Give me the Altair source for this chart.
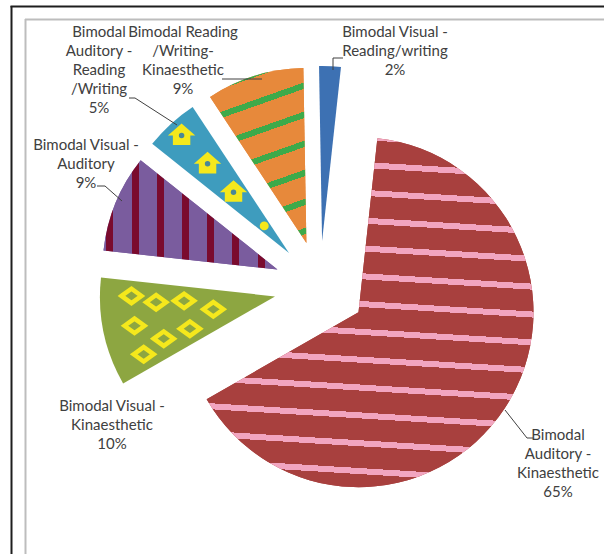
import math
import altair as alt
import numpy as np
import pandas as pd

# ---------------- data ----------------
keys = ["AK", "VK", "VA", "AR", "RK", "VR"]
categories = [
    "Bimodal Auditory-Kinaesthetic",
    "Bimodal Visual-Kinaesthetic",
    "Bimodal Visual-Auditory",
    "Bimodal Auditory-Reading/Writing",
    "Bimodal Reading/Writing-Kinaesthetic",
    "Bimodal Visual-Reading/writing",
]
percent = [65, 10, 9, 5, 9, 2]
label_lines = [
    ["Bimodal", "Auditory -", "Kinaesthetic"],
    ["Bimodal Visual -", "Kinaesthetic"],
    ["Bimodal Visual -", "Auditory"],
    ["Bimodal", "Auditory -", "Reading", "/Writing"],
    ["Bimodal Reading", "/Writing-", "Kinaesthetic"],
    ["Bimodal Visual -", "Reading/writing"],
]

# ---------------- style / layout ----------------
slice_colors = ["#A8403E", "#8DA641", "#7A5C9E", "#3E9CBE", "#E7893B", "#3D71B3"]
PINK = "#F2A5C0"
STRIPE_GREEN = "#3DAA4A"
BAR_RED = "#7A0B2E"
YELLOW = "#F5E81C"
TEXT_COLOR = "#404040"
FONT = "Lato"

W, H = 579, 535
PAD_L, PAD_T = 25, 19
CX, CY = 295, 268          # pie centre inside the plot area (px)
R = 175                    # pie radius (px)
EXPLODE = 46               # slice explosion (px)
ROT = math.radians(6.2)    # angle of first slice

# first-line centre of each label block and leader lines, in screen px
label_pos_px = {"AK": (558, 435), "VK": (112, 406), "VA": (86, 145),
                "AR": (99, 32), "RK": (183, 32), "VR": (395, 32)}
leader_px = {
    "VR": [(333, 70), (333, 58), (343, 58)],
    "RK": [(222, 79), (262, 79)],
    "AR": [(129, 98), (135, 98), (177, 125)],
    "VA": [(97, 186), (105, 186), (122, 201)],
    "AK": [(505, 410), (527, 438), (533, 438)],
}


def to_unit(sx, sy):
    return (sx - PAD_L - CX) / R, (PAD_T + CY - sy) / R


# ---------------- geometry from data ----------------
df = pd.DataFrame({"key": keys, "category": categories, "pct": percent})
total = float(df["pct"].sum())
df["end"] = df["pct"].cumsum()
df["start"] = df["end"] - df["pct"]
df["a0"] = ROT + 2 * np.pi * df["start"] / total
df["a1"] = ROT + 2 * np.pi * df["end"] / total
df["mid"] = (df["a0"] + df["a1"]) / 2
kx = EXPLODE / R
df["ox"] = kx * np.sin(df["mid"])
df["oy"] = kx * np.cos(df["mid"])
df["label"] = ["\n".join(l + [f"{p}%"]) for l, p in zip(label_lines, percent)]
df["lx"] = [to_unit(*label_pos_px[k])[0] for k in keys]
df["ly"] = [to_unit(*label_pos_px[k])[1] for k in keys]

xs = alt.Scale(domain=[-1, 1], range=[CX - R, CX + R], nice=False, zero=False)
ys = alt.Scale(domain=[-1, 1], range=[CY + R, CY - R], nice=False, zero=False)
ts = alt.Scale(domain=[0, total], range=[ROT, ROT + 2 * np.pi], nice=False, zero=False)


def pos(xf, yf):
    return dict(
        x=alt.X(f"{xf}:Q", scale=xs, axis=None, stack=False),
        y=alt.Y(f"{yf}:Q", scale=ys, axis=None, stack=False),
    )


arc_enc = dict(
    theta=alt.Theta("start:Q", scale=ts, stack=False),
    theta2=alt.Theta2("end:Q"),
)


def sector_bbox(a0, a1):
    angs = np.linspace(a0, a1, 1441)
    px = np.r_[0.0, R * np.sin(angs)]
    py = np.r_[0.0, -R * np.cos(angs)]
    return px.min(), py.min(), px.max() - px.min(), py.max() - py.min()


def stripe_gradient(a0, a1, normal_deg, anchor, spacing, thick, base, stripe):
    x0, y0, w, h = sector_bbox(a0, a1)
    phi = math.radians(normal_deg)
    nx, ny = math.cos(phi), math.sin(phi)
    L = abs(nx) * w + abs(ny) * h
    a, b = nx / L, ny / L
    cx_ = x0 if nx >= 0 else x0 + w
    cy_ = y0 if ny >= 0 else y0 + h
    u1 = 0.0 if nx >= 0 else 1.0
    v1 = 0.0 if ny >= 0 else 1.0
    den = a * a * w * w + b * b * h * h
    gx, gy = a * w / den, b * h / den
    s_min = nx * cx_ + ny * cy_
    t_anchor = (nx * anchor[0] + ny * anchor[1] - s_min) / L
    dt = spacing / L
    ht = thick / 2 / L
    stops = [(0.0, base)]
    kmin = math.floor(-t_anchor / dt) - 1
    kmax = math.ceil((1 - t_anchor) / dt) + 1
    for k in range(kmin, kmax + 1):
        tc = t_anchor + k * dt
        lo, hi = tc - ht, tc + ht
        if hi <= 0 or lo >= 1:
            continue
        lo, hi = max(lo, 0.0), min(hi, 1.0)
        stops += [(lo, base), (lo, stripe), (hi, stripe), (hi, base)]
    stops.append((1.0, base))
    return alt.LinearGradient(
        gradient="linear",
        stops=[alt.GradientStop(offset=round(o, 5), color=c) for o, c in stops],
        x1=u1, y1=v1, x2=u1 + gx, y2=v1 + gy,
    )


def stripe_layer(key, normal_deg, anchor, spacing, thick, stripe_color):
    row = df[df["key"] == key].iloc[0]
    base = slice_colors[keys.index(key)]
    grad = stripe_gradient(row["a0"], row["a1"], normal_deg, anchor, spacing, thick, base, stripe_color)
    return (
        alt.Chart(df)
        .transform_filter(alt.datum.key == key)
        .mark_arc(radius=R, fill=grad)
        .encode(**pos("ox", "oy"), **arc_enc)
    )


# ---------------- layers ----------------
arcs = alt.Chart(df).mark_arc(radius=R).encode(
    **pos("ox", "oy"),
    **arc_enc,
    color=alt.Color("key:N", scale=alt.Scale(domain=keys, range=slice_colors), legend=None),
    tooltip=["category:N", "pct:Q"],
)

red_p = stripe_layer("AK", 93.5, (42, -145), 27.8, 6, PINK)
orange_p = stripe_layer("RK", 70.5, (3, -101), 27.5, 6, STRIPE_GREEN)
purple_p = stripe_layer("VA", 0, (-92, 0), 25.2, 7, BAR_RED)

# house motifs along the centre line of the 5% slice
ar = df[df["key"] == "AR"].iloc[0]
house_f = [0.91, 0.69, 0.47]
houses_df = pd.DataFrame({
    "hx": [ar["ox"] + f * np.sin(ar["mid"]) for f in house_f],
    "hy": [ar["oy"] + f * np.cos(ar["mid"]) for f in house_f],
})
dot_df = pd.DataFrame({"hx": [ar["ox"] + 0.21 * np.sin(ar["mid"])],
                       "hy": [ar["oy"] + 0.21 * np.cos(ar["mid"])]})
HOUSE = "M0,-1L1,-0.12L0.72,-0.12L0.72,0.8L-0.72,0.8L-0.72,-0.12L-1,-0.12Z"
houses = alt.Chart(houses_df).mark_point(
    shape=HOUSE, filled=True, color=YELLOW, size=430, opacity=1, stroke=YELLOW, strokeWidth=2.5
).encode(**pos("hx", "hy"))
holes = alt.Chart(houses_df).mark_point(
    shape="circle", filled=True, color="#4A8797", size=30, opacity=1
).encode(**pos("hx", "hy"))
dot = alt.Chart(dot_df).mark_point(
    shape="circle", filled=True, color=YELLOW, size=80, opacity=1
).encode(**pos("hx", "hy"))

# diamond motifs in the 10% slice
vk = df[df["key"] == "VK"].iloc[0]
span = vk["a1"] - vk["a0"]
dxs, dys = [], []
for f in [0.36, 0.52, 0.68, 0.82]:
    n = max(1, int(round(f * span * R / 36)))
    for j in range(n):
        ang = vk["a0"] + span * (j + 0.5) / n
        dxs.append(vk["ox"] + f * np.sin(ang))
        dys.append(vk["oy"] + f * np.cos(ang))
diam_df = pd.DataFrame({"dx": dxs, "dy": dys})
DIAMOND = "M-1,0L0,-0.72L1,0L0,0.72Z"
diamonds = alt.Chart(diam_df).mark_point(
    shape=DIAMOND, filled=False, color=YELLOW, size=400, strokeWidth=4.5, opacity=1
).encode(**pos("dx", "dy"))

# leader lines
lrows = []
for lid, pts in leader_px.items():
    for i, (sx, sy) in enumerate(pts):
        ux, uy = to_unit(sx, sy)
        lrows.append({"lid": lid, "pid": i, "ux": ux, "uy": uy})
leaders = alt.Chart(pd.DataFrame(lrows)).mark_line(color=TEXT_COLOR, strokeWidth=1).encode(
    **pos("ux", "uy"), detail="lid:N", order="pid:Q"
)

labels = alt.Chart(df).mark_text(
    font=FONT, fontSize=15, color=TEXT_COLOR, lineBreak="\n", lineHeight=19,
    align="center", baseline="middle",
).encode(**pos("lx", "ly"), text="label:N")

one = pd.DataFrame({"z": [0]})
gray_left = alt.Chart(one).mark_rule(color="#BDBDBD", strokeWidth=2).encode(
    x=alt.value(0.5), y=alt.value(0), y2=alt.value(H))
gray_top = alt.Chart(one).mark_rule(color="#BDBDBD", strokeWidth=2).encode(
    x=alt.value(0), x2=alt.value(W), y=alt.value(0.5))
black_left = alt.Chart(one).mark_rule(color="#1E1E1E", strokeWidth=2).encode(
    x=alt.value(-13.5), y=alt.value(-13), y2=alt.value(H))
black_top = alt.Chart(one).mark_rule(color="#1E1E1E", strokeWidth=2).encode(
    x=alt.value(-14.5), x2=alt.value(W), y=alt.value(-12.5))

chart = alt.layer(
    arcs, red_p, orange_p, purple_p, houses, holes, dot, diamonds,
    leaders, labels, gray_left, gray_top, black_left, black_top,
).properties(
    width=W, height=H,
    autosize=alt.AutoSizeParams(type="none"),
    padding={"left": PAD_L, "top": PAD_T, "right": 0, "bottom": 0},
    background="white",
).configure_view(stroke="transparent")

chart.save("out.html", embed_options={"renderer": "svg", "actions": False})
